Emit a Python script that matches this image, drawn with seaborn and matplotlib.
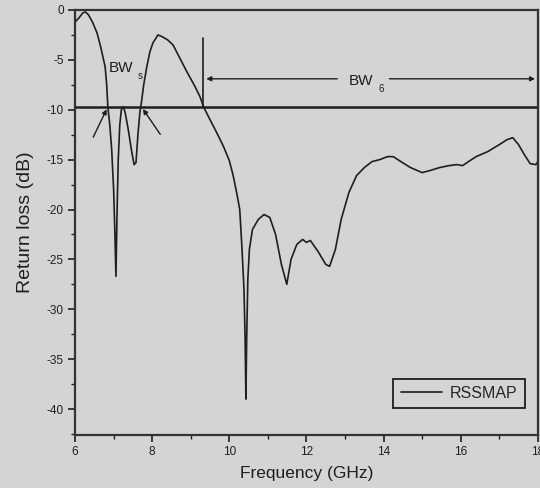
import numpy as np
import pandas as pd
import seaborn as sns
from matplotlib import pyplot as plt
from matplotlib.ticker import MultipleLocator

freq = [6.0, 6.1, 6.2, 6.27, 6.35, 6.45, 6.57, 6.67, 6.78, 6.82, 6.85, 6.9, 6.95,
        7.0, 7.03, 7.06, 7.09, 7.12, 7.16, 7.2, 7.25, 7.3, 7.38, 7.46, 7.53, 7.58,
        7.63, 7.68, 7.72, 7.78, 7.86, 7.94, 8.02, 8.15, 8.27, 8.4, 8.54, 8.7, 8.9,
        9.1, 9.24, 9.33, 9.5, 9.7, 9.85, 10.0, 10.1, 10.2, 10.27, 10.33, 10.38,
        10.41, 10.43, 10.45, 10.48, 10.52, 10.6, 10.75, 10.9, 11.05, 11.2, 11.35,
        11.49, 11.6, 11.75, 11.9, 12.0, 12.1, 12.3, 12.5, 12.6, 12.75, 12.9, 13.1,
        13.3, 13.5, 13.7, 13.9, 14.1, 14.25, 14.45, 14.7, 15.0, 15.2, 15.45, 15.7,
        15.9, 16.05, 16.2, 16.4, 16.7, 17.0, 17.2, 17.35, 17.5, 17.65, 17.8, 17.95,
        18.0]
s11 = [-1.2, -0.8, -0.3, -0.2, -0.5, -1.2, -2.3, -3.8, -5.7, -7.5, -9.7, -11.5, -14.0,
       -18.0, -22.0, -26.7, -20.0, -15.0, -11.5, -10.0, -9.7, -10.3, -12.0, -14.0, -15.5, -15.3,
       -12.5, -10.3, -9.3, -7.5, -5.7, -4.2, -3.3, -2.5, -2.7, -3.0, -3.5, -4.7, -6.2,
       -7.6, -8.7, -9.7, -11.0, -12.5, -13.7, -15.1, -16.6, -18.5, -20.0, -24.0, -28.0,
       -33.0, -39.0, -33.0, -27.0, -24.0, -22.0, -21.0, -20.5, -20.8, -22.5, -25.5,
       -27.5, -25.0, -23.5, -23.0, -23.3, -23.1, -24.2, -25.5, -25.7, -24.0, -21.0, -18.3,
       -16.6, -15.8, -15.2, -15.0, -14.7, -14.7, -15.2, -15.8, -16.3, -16.1, -15.8, -15.6,
       -15.5, -15.6, -15.2, -14.7, -14.2, -13.5, -13.0, -12.8, -13.5, -14.5, -15.4, -15.5,
       -15.2]

ref_level = -9.7
bw_s = (6.85, 7.72)      # lower band edges
bw_6_start = 9.33        # upper band starts here and runs past 18 GHz

df = pd.DataFrame({'Frequency (GHz)': freq, 'Return loss (dB)': s11, 'trace': 'RSSMAP'})

sns.set_style('ticks')
bg = '#d4d4d4'
plt.rcParams['font.family'] = ['Liberation Sans', 'DejaVu Sans']
plt.rcParams['axes.unicode_minus'] = False

fig = plt.figure(figsize=(5.4, 4.88), dpi=100, facecolor=bg)
ax = fig.add_axes([0.139, 0.1086, 0.857, 0.871])
ax.set_facecolor(bg)

ink = '#1e1e1e'
sns.lineplot(data=df, x='Frequency (GHz)', y='Return loss (dB)', hue='trace',
             palette=[ink], linewidth=1.2, ax=ax, sort=False)

# -10 dB reference line
ax.axhline(ref_level, color=ink, linewidth=1.8)

# BW_s annotation: arrows pointing at the two crossing points
arrow = dict(arrowstyle='-|>', color=ink, lw=1.0, mutation_scale=7)
ax.annotate('', xy=(bw_s[0], ref_level), xytext=(6.44, -13.0), arrowprops=arrow)
ax.annotate('', xy=(bw_s[1], ref_level), xytext=(8.25, -12.7), arrowprops=arrow)
ax.text(7.18, -6.2, 'BW', fontsize=11, color=ink, ha='center', va='baseline')
ax.text(7.68, -6.9, 's', fontsize=7, color=ink, ha='center', va='baseline')

# BW_6 annotation
ax.plot([bw_6_start, bw_6_start], [ref_level, -2.8], color=ink, lw=1.2)
ax.annotate('', xy=(bw_6_start, -6.9), xytext=(12.87, -6.9), arrowprops=arrow)
ax.annotate('', xy=(18.0, -6.9), xytext=(14.08, -6.9), arrowprops=arrow)
ax.text(13.42, -7.5, 'BW', fontsize=11, color=ink, ha='center', va='baseline')
ax.text(13.93, -8.2, '6', fontsize=7, color=ink, ha='center', va='baseline')

ax.set_xlim(6, 18)
ax.set_ylim(-42.6, 0)
ax.xaxis.set_major_locator(MultipleLocator(2))
ax.xaxis.set_minor_locator(MultipleLocator(1))
ax.yaxis.set_major_locator(MultipleLocator(5))
ax.yaxis.set_minor_locator(MultipleLocator(2.5))
ax.tick_params(which='major', direction='out', length=5, width=1.2, colors=ink,
               labelsize=8.5, pad=3)
ax.tick_params(which='minor', direction='out', length=3, width=1.0, colors=ink)
for sp in ax.spines.values():
    sp.set_linewidth(1.6)
    sp.set_color('#333333')

ax.set_xlabel('Frequency (GHz)', fontsize=12.5, color=ink, labelpad=6)
ax.set_ylabel('Return loss (dB)', fontsize=14, color=ink, labelpad=9)

leg = ax.legend(loc='lower right', bbox_to_anchor=(0.972, 0.0635), borderaxespad=0,
                fontsize=11.5, frameon=True, fancybox=False, handlelength=2.6,
                borderpad=0.45, handletextpad=0.5)
leg.get_frame().set_edgecolor(ink)
leg.get_frame().set_facecolor(bg)
leg.get_frame().set_linewidth(1.3)
leg.get_frame().set_alpha(1)

fig.savefig('out.png', dpi=100, facecolor=bg)
